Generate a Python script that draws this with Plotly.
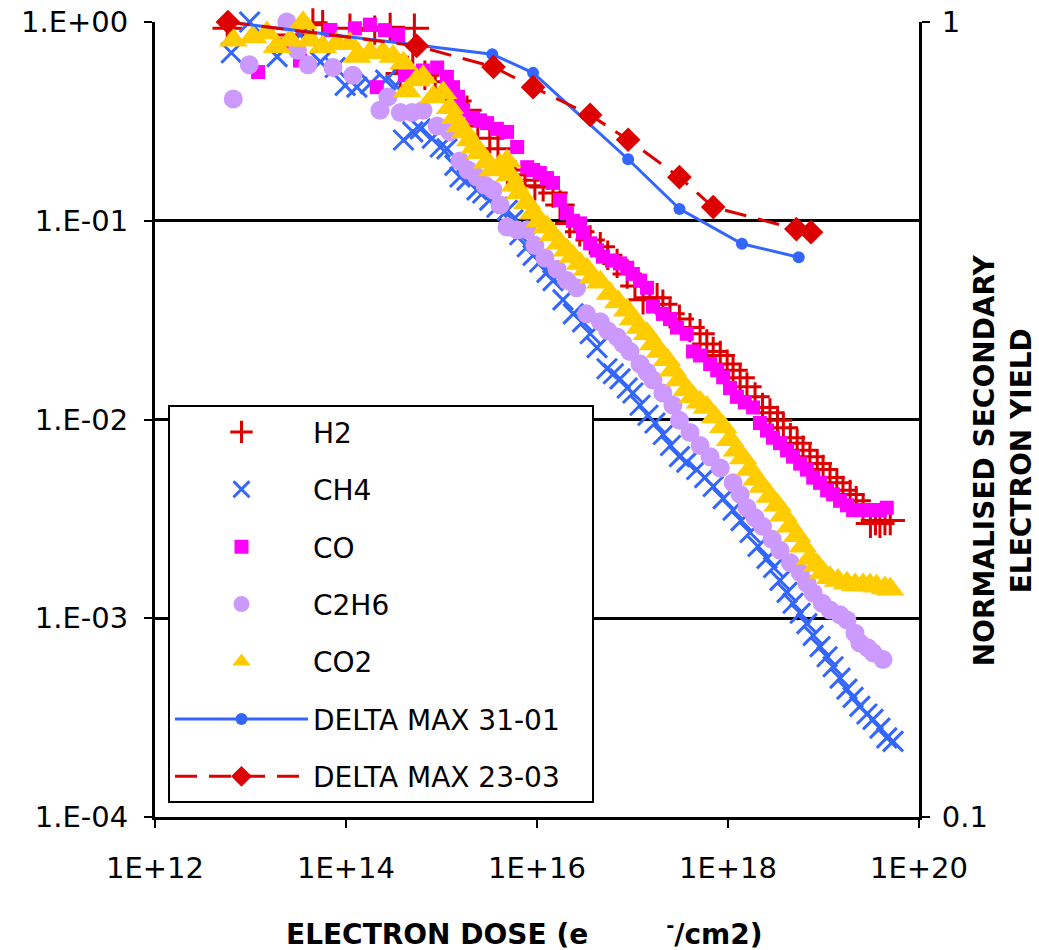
import plotly.graph_objects as go

# ---------------- data ----------------
h2_dose = [5.7e12, 9.9e12, 2.6e13, 4.5e13, 5.7e13, 1.1e14, 2.0e14, 2.9e14, 5.2e14,
           3.7e14, 4.4e14, 5.0e14, 6.7e14, 8.6e14, 1.14e15, 1.45e15, 1.85e15, 2.4e15,
           3.2e15, 3.9e15, 4.9e15, 5.9e15, 7.5e15, 9.5e15, 1.16e16, 1.47e16, 1.74e16,
           2.2e16, 2.8e16, 3.6e16, 4.6e16, 5.5e16, 6.9e16, 8.8e16, 1.06e17, 1.29e17,
           1.52e17, 1.81e17, 2.08e17, 2.47e17, 3.1e17, 4.0e17, 5.1e17, 6.0e17, 7.0e17,
           8.3e17, 9.8e17, 1.13e18, 1.34e18, 1.58e18, 1.92e18, 2.3e18, 2.75e18, 3.3e18,
           3.8e18, 4.5e18, 5.3e18, 6.1e18, 7.2e18, 8.6e18, 9.9e18, 1.17e19, 1.38e19,
           1.6e19, 1.9e19, 2.2e19, 2.6e19, 3.1e19, 3.5e19, 3.9e19, 4.4e19, 5.0e19]
h2_yield = [0.93, 1.02, 0.86, 0.99, 0.97, 0.93, 0.91, 0.94, 0.93,
            0.55, 0.57, 0.59, 0.54, 0.50, 0.44, 0.40, 0.36, 0.30,
            0.26, 0.23, 0.18, 0.17, 0.16, 0.15, 0.148, 0.138, 0.12,
            0.097, 0.088, 0.080, 0.074, 0.067, 0.061, 0.054, 0.047, 0.040,
            0.041, 0.041, 0.038, 0.034, 0.032, 0.029, 0.027, 0.024, 0.022,
            0.021, 0.019, 0.0177, 0.0162, 0.0146, 0.013, 0.0115, 0.0108, 0.0099,
            0.0091, 0.0081, 0.0076, 0.0070, 0.0065, 0.0060, 0.0056, 0.0051, 0.0048,
            0.0044, 0.0042, 0.0039, 0.0035, 0.0030, 0.0031, 0.0030, 0.0031, 0.0031]

ch4_dose = [6.3e12, 9.8e12, 1.32e13, 1.9e13, 3.3e13, 5.4e13, 7.7e13, 9.8e13, 1.3e14,
            1.8e14, 2.6e14, 3.3e14, 4.0e14, 5.0e14, 6.0e14, 8.0e14, 9.7e14, 1.14e15,
            1.38e15, 1.56e15, 1.85e15, 2.35e15, 2.7e15, 3.2e15, 3.8e15, 4.9e15, 5.6e15,
            6.6e15, 7.9e15, 9.1e15, 1.07e16, 1.27e16, 1.47e16, 1.87e16, 2.4e16, 3.0e16,
            3.6e16, 4.25e16, 5.4e16, 6.3e16, 7.4e16, 8.8e16, 1.01e17, 1.2e17, 1.45e17,
            1.72e17, 2.1e17, 2.5e17, 3.1e17, 3.7e17, 4.7e17, 5.7e17, 7.0e17, 8.9e17,
            1.13e18, 1.37e18, 1.7e18, 2.06e18, 2.56e18, 3.0e18, 3.5e18, 4.15e18, 4.8e18,
            5.7e18, 6.7e18, 7.8e18, 9.2e18, 1.09e19, 1.26e19, 1.49e19, 1.76e19, 2.04e19,
            2.4e19, 2.85e19, 3.3e19, 3.9e19, 4.6e19, 5.35e19]
ch4_yield = [0.70, 1.0, 1.05, 0.67, 0.86, 0.63, 0.59, 0.48, 0.47,
             0.49, 0.51, 0.48, 0.255, 0.28, 0.29, 0.26, 0.235, 0.23,
             0.19, 0.166, 0.16, 0.143, 0.138, 0.127, 0.117, 0.113, 0.101,
             0.085, 0.074, 0.067, 0.062, 0.055, 0.050, 0.040, 0.034, 0.031,
             0.027, 0.023, 0.018, 0.017, 0.016, 0.0144, 0.0136, 0.0118, 0.0105,
             0.0096, 0.0084, 0.0074, 0.0065, 0.0061, 0.0056, 0.0051, 0.0046, 0.0040,
             0.0035, 0.0031, 0.0027, 0.0023, 0.0020, 0.0018, 0.00155, 0.00135, 0.00119,
             0.00106, 0.00094, 0.00082, 0.00072, 0.00064, 0.00057, 0.00050, 0.00044, 0.00040,
             0.00036, 0.00033, 0.00031, 0.00028, 0.00025, 0.00024]

co_dose = [1.2e13, 2.3e13, 3.3e13, 6.8e13, 1.24e14, 1.78e14, 2.56e14, 3.5e14, 2.1e14,
           4.15e14, 4.7e14, 6.4e14, 9.0e14, 1.14e15, 1.32e15, 1.49e15, 1.68e15, 2.14e15,
           2.53e15, 3.0e15, 3.8e15, 4.85e15, 6.2e15, 7.9e15, 9.1e15, 1.07e16, 1.27e16,
           1.47e16, 1.74e16, 2.06e16, 2.38e16, 2.82e16, 3.03e16, 3.6e16, 4.25e16, 4.9e16,
           6.1e16, 7.4e16, 8.8e16, 1.01e17, 1.2e17, 1.42e17, 1.64e17, 2.08e17, 2.47e17,
           2.92e17, 3.7e17, 4.3e17, 5.1e17, 6.5e17, 7.7e17, 8.9e17, 1.05e18, 1.24e18,
           1.5e18, 1.83e18, 2.16e18, 2.56e18, 2.96e18, 3.5e18, 4.15e18, 4.8e18, 5.7e18,
           6.7e18, 7.8e18, 9.2e18, 1.09e19, 1.26e19, 1.49e19, 1.76e19, 2.04e19, 2.4e19,
           2.85e19, 3.3e19, 3.9e19, 4.6e19]
co_yield = [0.56, 0.77, 0.64, 0.91, 0.93, 0.97, 0.91, 0.86, 0.47,
            0.54, 0.55, 0.57, 0.59, 0.53, 0.47, 0.42, 0.36, 0.33,
            0.32, 0.31, 0.29, 0.28, 0.235, 0.186, 0.18, 0.174, 0.164,
            0.155, 0.127, 0.109, 0.100, 0.097, 0.087, 0.077, 0.071, 0.066,
            0.063, 0.061, 0.058, 0.054, 0.050, 0.046, 0.037, 0.034, 0.032,
            0.029, 0.027, 0.022, 0.021, 0.019, 0.0177, 0.0163, 0.0144, 0.013,
            0.0122, 0.0115, 0.0096, 0.0088, 0.0081, 0.0076, 0.0070, 0.0065, 0.0060,
            0.0056, 0.0051, 0.0048, 0.0044, 0.0042, 0.0039, 0.0037, 0.0035, 0.0035,
            0.0035, 0.0035, 0.0035, 0.0036]

c2h6_dose = [6.6e12, 9.7e12, 2.4e13, 3.1e13, 4.0e13, 7.3e13, 1.18e14, 2.27e14, 2.75e14,
             3.7e14, 4.9e14, 6.4e14, 9.0e14, 1.23e15, 1.56e15, 1.89e15, 2.35e15, 2.85e15,
             3.46e15, 4.1e15, 4.85e15, 6.2e15, 7.9e15, 9.5e15, 1.21e16, 1.62e16, 2.06e16,
             2.6e16, 3.3e16, 4.6e16, 5.5e16, 6.9e16, 8.0e16, 9.4e16, 1.2e17, 1.42e17,
             1.64e17, 2.08e17, 2.65e17, 3.1e17, 4.0e17, 5.1e17, 6.5e17, 8.3e17, 1.13e18,
             1.34e18, 1.58e18, 1.92e18, 2.3e18, 2.9e18, 3.5e18, 4.5e18, 5.7e18, 6.7e18,
             7.8e18, 9.7e18, 1.17e19, 1.49e19, 1.76e19, 2.14e19, 2.4e19, 2.9e19, 3.3e19,
             4.2e19]
c2h6_yield = [0.41, 0.61, 1.0, 0.72, 0.61, 0.59, 0.54, 0.36, 0.42,
              0.35, 0.35, 0.36, 0.30, 0.28, 0.20, 0.18, 0.166, 0.151,
              0.143, 0.12, 0.093, 0.090, 0.090, 0.075, 0.065, 0.057, 0.050,
              0.046, 0.034, 0.031, 0.028, 0.026, 0.024, 0.022, 0.019, 0.0173,
              0.0158, 0.0136, 0.0118, 0.0099, 0.0086, 0.0074, 0.0065, 0.0057, 0.0048,
              0.0042, 0.0036, 0.0032, 0.0029, 0.0025, 0.0022, 0.0019, 0.0017, 0.0015,
              0.00134, 0.00119, 0.0011, 0.00104, 0.00098, 0.00084, 0.00075, 0.00071, 0.00067,
              0.00062]

co2_dose = [6.6e12, 1.06e13, 1.49e13, 1.89e13, 2.6e13, 3.55e13, 4.2e13, 5.7e13, 8.0e13,
            1.1e14, 1.3e14, 1.78e14, 2.44e14, 3.1e14, 4.0e14, 4.35e14, 5.5e14, 6.4e14,
            8.2e14, 1.04e15, 1.23e15, 1.38e15, 1.56e15, 1.76e15, 2.0e15, 2.24e15, 2.53e15,
            3.0e15, 3.46e15, 4.1e15, 4.85e15, 5.2e15, 5.9e15, 6.6e15, 7.9e15, 9.1e15,
            1.07e16, 1.27e16, 1.47e16, 1.74e16, 2.06e16, 2.38e16, 2.82e16, 3.34e16, 3.86e16,
            4.6e16, 5.8e16, 7.1e16, 8.8e16, 1.01e17, 1.2e17, 1.42e17, 1.64e17, 1.94e17,
            2.3e17, 2.65e17, 3.1e17, 3.7e17, 4.3e17, 5.1e17, 6.0e17, 7.3e17, 8.9e17,
            1.05e18, 1.24e18, 1.44e18, 1.7e18, 2.0e18, 2.3e18, 2.75e18, 3.3e18, 3.8e18,
            4.5e18, 5.3e18, 6.1e18, 7.2e18, 8.6e18, 9.9e18, 1.17e19, 1.42e19, 1.76e19,
            2.14e19, 2.6e19, 3.07e19, 3.6e19, 4.4e19, 5.0e19]
co2_yield = [0.81, 0.84, 0.88, 0.75, 0.81, 0.99, 0.81, 0.75, 0.78,
             0.78, 0.67, 0.70, 0.70, 0.67, 0.62, 0.45, 0.51, 0.53,
             0.42, 0.44, 0.37, 0.33, 0.30, 0.28, 0.255, 0.235, 0.22,
             0.197, 0.18, 0.19, 0.20, 0.17, 0.151, 0.138, 0.123, 0.109,
             0.100, 0.093, 0.085, 0.077, 0.071, 0.066, 0.061, 0.057, 0.052,
             0.049, 0.043, 0.039, 0.0355, 0.032, 0.029, 0.027, 0.024, 0.022,
             0.020, 0.0177, 0.0158, 0.0141, 0.013, 0.0122, 0.0115, 0.0103, 0.0092,
             0.0079, 0.0070, 0.0064, 0.0056, 0.0050, 0.0046, 0.0041, 0.0037, 0.0033,
             0.0029, 0.0026, 0.0023, 0.0020, 0.00185, 0.0017, 0.0016, 0.00155, 0.0015,
             0.00147, 0.00147, 0.00147, 0.00145, 0.00142, 0.0014]

dm3101_dose = [5.7e12, 3.4e15, 9.1e15, 9.0e16, 3.1e17, 1.4e18, 5.5e18]
dm3101_yield = [1.0, 0.911, 0.863, 0.672, 0.582, 0.526, 0.506]

dm2303_dose = [5.8e12, 5.5e14, 3.5e15, 9.1e15, 3.6e16, 9.0e16, 3.1e17, 7.0e17, 5.2e18, 7.4e18]
dm2303_yield = [1.0, 0.933, 0.878, 0.828, 0.764, 0.711, 0.638, 0.585, 0.549, 0.544]

x_tickvals = [1e12, 1e14, 1e16, 1e18, 1e20]
x_ticktext = ["1E+12", "1E+14", "1E+16", "1E+18", "1E+20"]
y_tickvals = [1, 1e-1, 1e-2, 1e-3, 1e-4]
y_ticktext = ["1.E+00", "1.E-01", "1.E-02", "1.E-03", "1.E-04"]
y2_tickvals = [1, 0.1]
y2_ticktext = ["1", "0.1"]

# ---------------- styles ----------------
RED = "rgb(221,0,0)"
BLUE = "rgb(51,102,255)"
MAGENTA = "rgb(255,0,255)"
LILAC = "rgb(204,153,255)"
GOLD = "rgb(255,204,0)"
FONT = "DejaVu Sans"
NB = "\u00a0"

fig = go.Figure()

fig.add_trace(go.Scatter(x=h2_dose, y=h2_yield, name="H2", mode="markers", legendgroup="a",
                         marker=dict(symbol="cross-thin", size=21, color=RED,
                                     line=dict(color=RED, width=3)), cliponaxis=False))
fig.add_trace(go.Scatter(x=ch4_dose, y=ch4_yield, name="CH4", mode="markers", legendgroup="b",
                         marker=dict(symbol="x-thin", size=20, color=BLUE,
                                     line=dict(color=BLUE, width=3)), cliponaxis=False))
fig.add_trace(go.Scatter(x=co_dose, y=co_yield, name="CO", mode="markers", legendgroup="c",
                         marker=dict(symbol="square", size=14, color=MAGENTA), cliponaxis=False))
fig.add_trace(go.Scatter(x=c2h6_dose, y=c2h6_yield, name="C2H6", mode="markers", legendgroup="d",
                         marker=dict(symbol="circle", size=19, color=LILAC), cliponaxis=False))
fig.add_trace(go.Scatter(x=co2_dose, y=co2_yield, name="CO2", mode="markers", legendgroup="e",
                         marker=dict(symbol="triangle-up", size=25, color=GOLD), cliponaxis=False))
fig.add_trace(go.Scatter(x=dm3101_dose, y=dm3101_yield, name="DELTA MAX 31-01", yaxis="y2",
                         mode="lines+markers", legendgroup="f",
                         line=dict(color=BLUE, width=3),
                         marker=dict(symbol="circle", size=12, color=BLUE), cliponaxis=False))
fig.add_trace(go.Scatter(x=dm2303_dose, y=dm2303_yield, name="DELTA MAX 23-03" + NB * 3,
                         yaxis="y2", mode="lines+markers", legendgroup="g",
                         line=dict(color=RED, width=3, dash="22px,12px"),
                         marker=dict(symbol="diamond", size=19, color=RED), cliponaxis=False))

fig.update_layout(
    width=1039, height=950,
    margin=dict(l=155, r=120, t=22, b=133, autoexpand=False),
    paper_bgcolor="white", plot_bgcolor="white",
    font=dict(family=FONT, size=28, color="black"),
    showlegend=True,
    legend=dict(x=0.017, y=0.518, xanchor="left", yanchor="top",
                bgcolor="white", bordercolor="black", borderwidth=2,
                font=dict(family=FONT, size=28, color="black"),
                traceorder="grouped", tracegroupgap=18, itemwidth=133),
    xaxis=dict(type="log", range=[12, 20], tickvals=x_tickvals, ticktext=x_ticktext,
               ticks="outside", ticklen=8, tickwidth=2, tickcolor="black",
               showline=True, linecolor="black", linewidth=3, automargin=False,
               showgrid=False, zeroline=False, ticklabelstandoff=15,
               tickfont=dict(family=FONT, size=29)),
    yaxis=dict(type="log", range=[-4, 0], tickvals=y_tickvals, ticktext=y_ticktext,
               ticks="outside", ticklen=8, tickwidth=2, tickcolor="black",
               showline=True, linecolor="black", linewidth=3, automargin=False,
               showgrid=True, gridcolor="black", gridwidth=3, zeroline=False,
               ticklabelstandoff=10, tickfont=dict(family=FONT, size=29)),
    yaxis2=dict(type="log", range=[-1, 0], overlaying="y", side="right",
                tickvals=y2_tickvals, ticktext=y2_ticktext, automargin=False,
                ticks="outside", ticklen=8, tickwidth=2, tickcolor="black",
                showline=True, linecolor="black", linewidth=3,
                showgrid=False, zeroline=False, ticklabelstandoff=6,
                tickfont=dict(family=FONT, size=29)),
    annotations=[
        dict(text="ELECTRON DOSE (e" + NB * 8 + "<sup>-</sup>/cm2)",
             xref="paper", yref="paper", x=0.483, y=-0.145, xanchor="center", yanchor="middle",
             showarrow=False, font=dict(family=FONT, size=28, color="black", weight="bold")),
        dict(text="NORMALISED SECONDARY<br>ELECTRON YIELD",
             xref="paper", yref="paper", x=1.109, y=0.449, xanchor="center", yanchor="middle",
             textangle=-90, showarrow=False,
             font=dict(family=FONT, size=28, color="black", weight="bold")),
    ],
)

fig.write_html("out.html")
